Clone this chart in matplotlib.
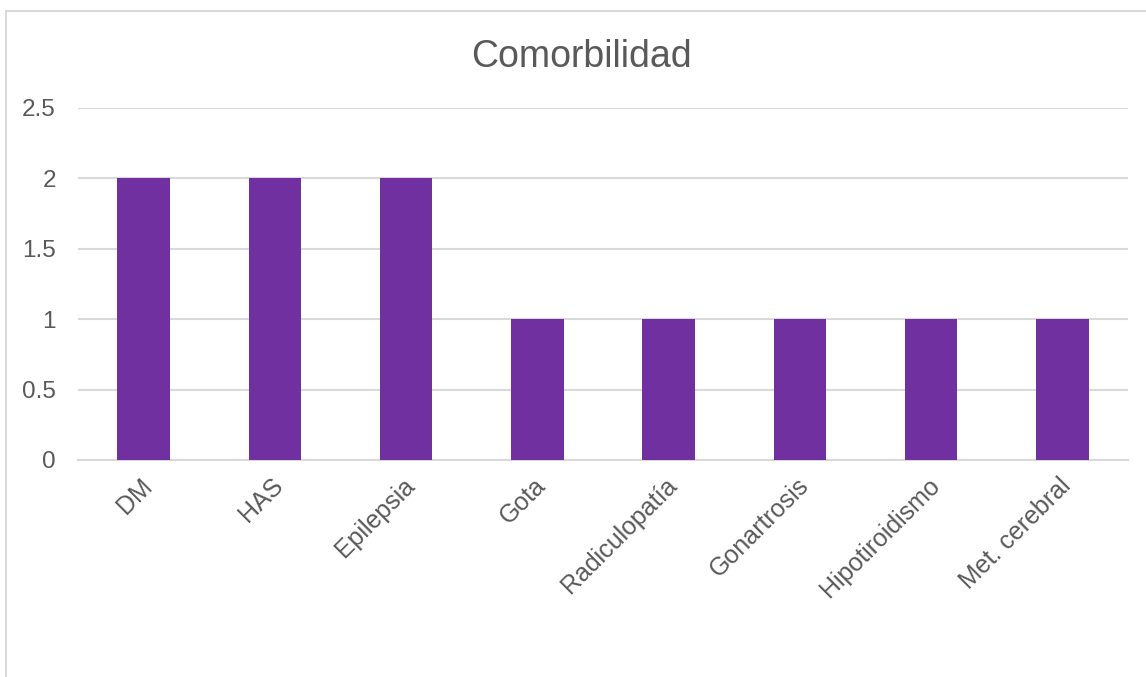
import numpy as np
import matplotlib
matplotlib.use("Agg")
from matplotlib import pyplot as plt
from matplotlib.patches import Rectangle
from matplotlib.transforms import ScaledTranslation

categories = ["DM", "HAS", "Epilepsia", "Gota", "Radiculopatía",
              "Gonartrosis", "Hipotiroidismo", "Met. cerebral"]
values = [2, 2, 2, 1, 1, 1, 1, 1]
yticks = [0, 0.5, 1, 1.5, 2, 2.5]
ytick_labels = ["0", "0.5", "1", "1.5", "2", "2.5"]

plt.rcParams['font.family'] = ['Liberation Sans', 'DejaVu Sans']
text_col = "#595959"
grid_col = "#D9D9D9"

W, H = 1146, 677
fig = plt.figure(figsize=(W / 100, H / 100), dpi=100)
ax = fig.add_axes([78 / W, 1 - 460 / H, (1128 - 78) / W, (460 - 108) / H])

x = np.arange(len(categories))
ax.bar(x, values, width=0.40, color="#7030A0", zorder=3)

ax.set_xlim(-0.5, len(categories) - 0.5)
ax.set_ylim(0, 2.5)
ax.set_yticks(yticks)
ax.set_yticklabels(ytick_labels)
ax.yaxis.grid(True, color=grid_col, linewidth=1.5, zorder=0)
ax.set_axisbelow(True)
for s in ["left", "right", "top"]:
    ax.spines[s].set_visible(False)
ax.spines["bottom"].set_color(grid_col)
ax.spines["bottom"].set_linewidth(1.5)

ax.tick_params(axis="y", length=0, pad=16, labelsize=17.5, labelcolor=text_col)
ax.tick_params(axis="x", length=0, pad=16, labelsize=18, labelcolor=text_col)
ax.set_xticks(x)
ax.set_xticklabels(categories, rotation=45, ha="right", va="center",
                   rotation_mode="anchor")
offset = ScaledTranslation(5 / 100, 0, fig.dpi_scale_trans)
for lbl in ax.get_xticklabels():
    lbl.set_transform(lbl.get_transform() + offset)

fig.text(581 / W, 1 - 67 / H, "Comorbilidad", ha="center", va="baseline",
         fontsize=27, color=text_col)

# chart area border (runs off the right and bottom edge)
fig.patches.append(Rectangle((5.5 / W, -0.1), 1.2, 1.1 - 10.5 / H,
                             transform=fig.transFigure, fill=False,
                             edgecolor=grid_col, linewidth=1.5))

fig.savefig("out.png", dpi=100)
